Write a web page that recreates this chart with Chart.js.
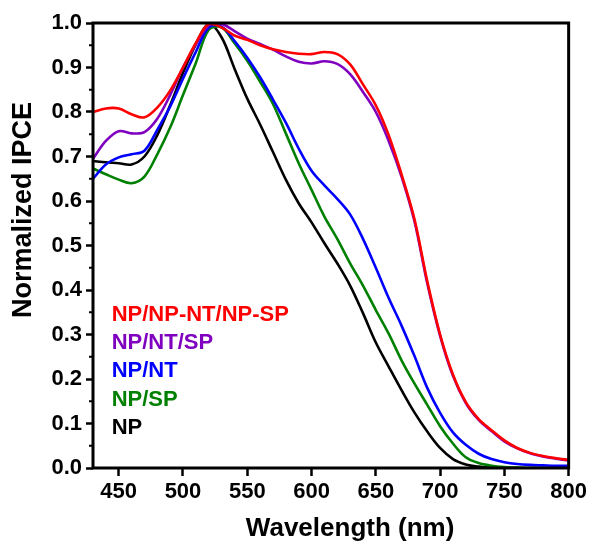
<!DOCTYPE html>
<html lang="en">
<head>
    <meta charset="UTF-8">
    <title>Normalized IPCE</title>
    <script src="https://cdn.jsdelivr.net/npm/chart.js"></script>
    <style>
        body { margin: 0; background: #fff; }
        #wrap { width: 590px; height: 543px; }
    </style>
</head>
<body>
    <div id="wrap"><canvas id="ipceChart" width="590" height="543"></canvas></div>

    <script>
        // wavelength grid (nm)
        const wavelength = [430, 440, 450, 460, 470, 480, 490, 500, 510, 520, 530, 540, 550, 560, 570, 580, 590, 600, 610, 620,
                            630, 640, 650, 660, 670, 680, 690, 700, 710, 720, 730, 740, 750, 760, 770, 780, 790, 800];

        // normalized IPCE
        const npNpntNpsp = [0.800, 0.808, 0.808, 0.795, 0.788, 0.810, 0.848, 0.900, 0.955, 0.998, 0.990, 0.972, 0.962, 0.950, 0.941, 0.935, 0.931, 0.930, 0.935, 0.930,
                            0.907, 0.862, 0.815, 0.748, 0.660, 0.560, 0.420, 0.300, 0.210, 0.148, 0.110, 0.085, 0.062, 0.045, 0.034, 0.027, 0.022, 0.018];
        const npNtSp     = [0.695, 0.735, 0.757, 0.752, 0.755, 0.785, 0.838, 0.900, 0.952, 0.995, 0.998, 0.982, 0.965, 0.953, 0.940, 0.925, 0.913, 0.909, 0.914, 0.908,
                            0.885, 0.845, 0.800, 0.735, 0.655, 0.555, 0.415, 0.297, 0.207, 0.146, 0.108, 0.083, 0.060, 0.044, 0.033, 0.026, 0.021, 0.017];
        const npNt       = [0.650, 0.682, 0.698, 0.705, 0.713, 0.760, 0.812, 0.875, 0.935, 0.990, 0.992, 0.960, 0.922, 0.878, 0.828, 0.776, 0.718, 0.668, 0.635, 0.605,
                            0.570, 0.515, 0.450, 0.382, 0.320, 0.252, 0.180, 0.124, 0.080, 0.052, 0.032, 0.020, 0.013, 0.009, 0.007, 0.006, 0.005, 0.005];
        const npSp       = [0.673, 0.660, 0.648, 0.640, 0.655, 0.705, 0.765, 0.838, 0.910, 0.985, 0.990, 0.955, 0.915, 0.868, 0.818, 0.752, 0.685, 0.625, 0.565, 0.515,
                            0.460, 0.410, 0.355, 0.302, 0.242, 0.190, 0.142, 0.094, 0.055, 0.024, 0.011, 0.005, 0.002, 0.001, 0.000, 0.000, 0.000, 0.000];
        const np         = [0.690, 0.687, 0.685, 0.682, 0.700, 0.748, 0.815, 0.888, 0.952, 0.998, 0.968, 0.898, 0.830, 0.772, 0.710, 0.648, 0.595, 0.552, 0.505, 0.460,
                            0.410, 0.348, 0.282, 0.228, 0.175, 0.125, 0.082, 0.045, 0.020, 0.008, 0.003, 0.001, 0.000, 0.000, 0.000, 0.000, 0.000, 0.000];

        const seriesNames  = ['NP/NP-NT/NP-SP', 'NP/NT/SP', 'NP/NT', 'NP/SP', 'NP'];
        const seriesColors = ['#ff0000', '#8000c0', '#0000ff', '#008000', '#000000'];
        const seriesValues = [npNpntNpsp, npNtSp, npNt, npSp, np];

        const xTickValues = [450, 500, 550, 600, 650, 700, 750, 800];
        const yTickValues = [0, 0.1, 0.2, 0.3, 0.4, 0.5, 0.6, 0.7, 0.8, 0.9, 1.0];

        const FONT = "'Liberation Sans', Arial, sans-serif";

        // frame, minor y ticks, axis titles and the in-plot text legend
        const decorations = {
            id: 'decorations',
            afterDraw(chart) {
                const { ctx, chartArea, scales } = chart;
                ctx.save();
                ctx.strokeStyle = '#000';
                ctx.lineWidth = 3;
                ctx.strokeRect(chartArea.left, chartArea.top, chartArea.right - chartArea.left, chartArea.bottom - chartArea.top);

                ctx.lineWidth = 2;
                for (let i = 0; i < yTickValues.length - 1; i++) {
                    const y = scales.y.getPixelForValue(yTickValues[i] + 0.05);
                    ctx.beginPath();
                    ctx.moveTo(chartArea.left - 4, y);
                    ctx.lineTo(chartArea.left, y);
                    ctx.stroke();
                }

                ctx.fillStyle = '#000';
                ctx.textAlign = 'center';

                // x axis title, a bit right of centre as in the figure
                ctx.font = 'bold 26px ' + FONT;
                ctx.textBaseline = 'alphabetic';
                ctx.fillText('Wavelength (nm)', scales.x.getPixelForValue(630), chart.height - 7);

                // y axis title, a little above the axis centre
                ctx.save();
                ctx.translate(24, scales.y.getPixelForValue(0.58));
                ctx.rotate(-Math.PI / 2);
                ctx.font = 'bold 27px ' + FONT;
                ctx.textBaseline = 'middle';
                ctx.fillText('Normalized IPCE', 0, 0);
                ctx.restore();

                ctx.font = 'bold 22px ' + FONT;
                ctx.textBaseline = 'middle';
                ctx.textAlign = 'left';
                const lx = scales.x.getPixelForValue(444.5);
                seriesNames.forEach((name, i) => {
                    ctx.fillStyle = seriesColors[i];
                    ctx.fillText(name, lx, scales.y.getPixelForValue(0.343 - i * 0.063));
                });
                ctx.restore();
            }
        };

        const ctx = document.getElementById('ipceChart').getContext('2d');
        const ipceChart = new Chart(ctx, {
            type: 'line',
            data: {
                datasets: seriesNames.map((name, i) => ({
                    label: name,
                    data: wavelength.map((w, j) => ({ x: w, y: seriesValues[i][j] })),
                    borderColor: seriesColors[i],
                    borderWidth: 2.6,
                    pointRadius: 0,
                    fill: false,
                    tension: 0.35
                }))
            },
            options: {
                responsive: false,
                animation: false,
                layout: { padding: { top: 23, right: 19, left: 0, bottom: 0 } },
                plugins: {
                    legend: { display: false },
                    tooltip: { enabled: false }
                },
                scales: {
                    x: {
                        type: 'linear',
                        min: 430,
                        max: 800,
                        afterBuildTicks: (scale) => { scale.ticks = xTickValues.map(v => ({ value: v })); },
                        afterFit: (scale) => { scale.height = 75; },
                        border: { display: false },
                        grid: { drawOnChartArea: false, drawTicks: true, tickLength: 8, tickWidth: 2.5, tickColor: '#000' },
                        ticks: { color: '#000', font: { family: FONT, size: 22, weight: 'bold' }, padding: 3, maxRotation: 0 },
                        title: { display: false }
                    },
                    y: {
                        min: 0,
                        max: 1,
                        afterBuildTicks: (scale) => { scale.ticks = yTickValues.map(v => ({ value: v })); },
                        afterFit: (scale) => { scale.width = 93; },
                        border: { display: false },
                        grid: { drawOnChartArea: false, drawTicks: true, tickLength: 7, tickWidth: 2.5, tickColor: '#000' },
                        ticks: { color: '#000', font: { family: FONT, size: 22, weight: 'bold' }, padding: 4, callback: v => v.toFixed(1) },
                        title: { display: false }
                    }
                }
            },
            plugins: [decorations]
        });
    </script>
</body>
</html>
